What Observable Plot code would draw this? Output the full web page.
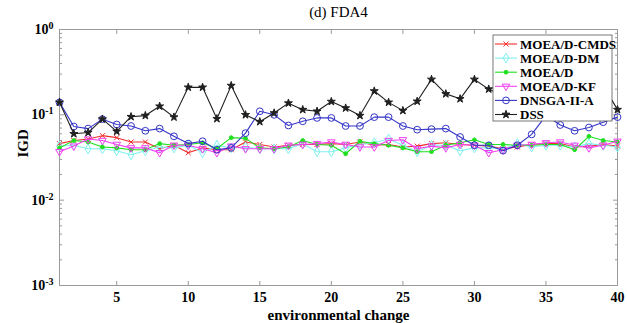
<!DOCTYPE html>
<html>
<head>
<meta charset="utf-8">
<script src="https://cdn.jsdelivr.net/npm/d3@7"></script>
<script src="https://cdn.jsdelivr.net/npm/@observablehq/plot@0.6"></script>
<style>
  html, body { margin: 0; padding: 0; background: white; }
  svg { display: block; }
</style>
</head>
<body>
<div id="chart"></div>
<script>
const envChange = d3.range(1, 41);
const seriesNames = ["MOEA/D-CMDS", "MOEA/D-DM", "MOEA/D", "MOEA/D-KF", "DNSGA-II-A", "DSS"];
const seriesColors = ["#f03030", "#80f0f0", "#20e020", "#f040f0", "#3535c8", "#202020"];
const seriesSymbols = ["times", "diamond", "circle", "triangle", "circle", "star"];
const seriesFilled = [false, false, true, false, false, true];
const seriesRotate = [0, 0, 0, 180, 0, 0];
const seriesR = [2.4, 3.0, 1.9, 2.8, 3.4, 2.5];

const cmds = [0.046,0.050,0.052,0.057,0.054,0.048,0.048,0.040,0.044,0.036,0.041,0.039,0.039,0.048,0.045,0.042,0.044,0.045,0.045,0.046,0.045,0.048,0.044,0.045,0.042,0.043,0.046,0.047,0.045,0.044,0.043,0.040,0.042,0.045,0.046,0.046,0.042,0.043,0.045,0.043];
const dm = [0.043,0.044,0.040,0.040,0.038,0.034,0.038,0.042,0.041,0.044,0.036,0.044,0.041,0.042,0.040,0.040,0.040,0.046,0.037,0.037,0.041,0.045,0.047,0.052,0.044,0.037,0.044,0.044,0.038,0.041,0.041,0.040,0.046,0.042,0.044,0.044,0.042,0.046,0.044,0.042];
const moead = [0.041,0.050,0.048,0.042,0.041,0.039,0.039,0.046,0.044,0.045,0.047,0.040,0.054,0.053,0.041,0.040,0.042,0.050,0.045,0.044,0.035,0.049,0.046,0.044,0.041,0.037,0.037,0.044,0.047,0.051,0.045,0.045,0.044,0.044,0.045,0.045,0.039,0.056,0.050,0.048];
const kf = [0.037,0.043,0.052,0.050,0.045,0.041,0.041,0.036,0.044,0.044,0.040,0.036,0.043,0.040,0.040,0.040,0.044,0.045,0.046,0.048,0.045,0.042,0.042,0.050,0.051,0.040,0.043,0.041,0.045,0.044,0.036,0.039,0.044,0.045,0.047,0.048,0.044,0.041,0.044,0.049];
const dnsga = [0.14,0.073,0.069,0.089,0.077,0.074,0.065,0.069,0.056,0.046,0.049,0.039,0.041,0.061,0.11,0.10,0.075,0.084,0.092,0.092,0.074,0.074,0.094,0.094,0.074,0.067,0.068,0.069,0.055,0.044,0.044,0.038,0.044,0.059,0.098,0.076,0.065,0.071,0.082,0.094];
const dss = [0.14,0.060,0.062,0.089,0.064,0.095,0.098,0.126,0.094,0.21,0.21,0.090,0.22,0.10,0.083,0.105,0.137,0.115,0.110,0.143,0.12,0.098,0.19,0.14,0.112,0.144,0.26,0.176,0.154,0.26,0.20,0.17,0.15,0.19,0.16,0.18,0.20,0.17,0.22,0.115];

const xTicks = [5, 10, 15, 20, 25, 30, 35, 40];
const yMajor = [1e-3, 1e-2, 1e-1, 1];
const titleText = "(d) FDA4";
const xLabel = "environmental change";
const yLabel = "IGD";

const allValues = [cmds, dm, moead, kf, dnsga, dss];
const table = [];
seriesNames.forEach((name, s) => {
  allValues[s].forEach((v, i) => table.push({series: name, x: envChange[i], y: v}));
});
const yMinor = [];
for (const d of [1e-3, 1e-2, 1e-1]) for (let k = 2; k <= 9; k++) yMinor.push(d * k);

const font = "Liberation Serif, Times New Roman, serif";
const axisStroke = "#9a9a9a";

const marks = [
  Plot.frame({stroke: axisStroke}),
  Plot.axisX({anchor: "bottom", ticks: xTicks, tickSize: -4, tickPadding: 11, stroke: axisStroke, fill: "black", fontSize: 14, fontWeight: "bold", label: null}),
  Plot.axisX({anchor: "top", ticks: xTicks, tickSize: -4, stroke: axisStroke, tickFormat: () => "", label: null}),
  Plot.axisY({anchor: "left", ticks: yMajor, tickSize: -5, tickPadding: 11, stroke: axisStroke, fill: "black", fontSize: 14, fontWeight: "bold", tickFormat: d => "10^" + Math.round(Math.log10(d)), label: null}),
  Plot.axisY({anchor: "left", ticks: yMinor, tickSize: -3, stroke: axisStroke, tickFormat: () => "", label: null}),
  Plot.axisY({anchor: "right", ticks: yMajor, tickSize: -5, stroke: axisStroke, tickFormat: () => "", label: null}),
  Plot.axisY({anchor: "right", ticks: yMinor, tickSize: -3, stroke: axisStroke, tickFormat: () => "", label: null})
];
seriesNames.forEach((name, s) => {
  const data = table.filter(d => d.series === name);
  marks.push(Plot.line(data, {x: "x", y: "y", stroke: seriesColors[s], strokeWidth: 1.1}));
  marks.push(Plot.dot(data, {
    x: "x", y: "y", symbol: () => seriesSymbols[s], r: seriesR[s],
    stroke: seriesColors[s], strokeWidth: 1,
    fill: seriesFilled[s] ? seriesColors[s] : "none",
    rotate: seriesRotate[s]
  }));
});
marks.push(Plot.text([titleText], {frameAnchor: "top", lineAnchor: "middle", dy: -17, fontSize: 15, fontWeight: "normal", fill: "black"}));
marks.push(Plot.text([xLabel], {frameAnchor: "bottom", lineAnchor: "middle", dy: 30, fontSize: 15, fontWeight: "bold", fill: "black"}));
marks.push(Plot.text([yLabel], {frameAnchor: "left", dx: -36, rotate: -90, fontSize: 15, fontWeight: "bold", fill: "black"}));

const svg = Plot.plot({
  width: 627,
  height: 323,
  marginTop: 29,
  marginBottom: 38,
  marginLeft: 59,
  marginRight: 10,
  x: {domain: [1, 40]},
  y: {type: "log", domain: [1e-3, 1]},
  symbol: {type: "identity"},
  style: {fontFamily: font, background: "white", color: "black", overflow: "visible"},
  marks
});

// superscript exponents on y tick labels
d3.select(svg).selectAll("text").each(function() {
  const t = this.textContent;
  if (/^10\^-?\d+$/.test(t)) {
    const exp = t.split("^")[1];
    const el = d3.select(this);
    el.text("");
    el.append("tspan").text("10");
    el.append("tspan").attr("dy", "-0.5em").attr("font-size", "10px").text(exp);
  }
});

// legend
const lg = d3.select(svg).append("g")
  .attr("font-family", font).attr("font-weight", "bold").attr("font-size", 13)
  .attr("text-anchor", "start");
const lx = 493, ly = 35, lw = 119, lh = 86;
lg.append("rect").attr("x", lx).attr("y", ly).attr("width", lw).attr("height", lh)
  .attr("fill", "white").attr("stroke", "#555").attr("stroke-width", 0.8);
const symMap = {times: d3.symbolTimes, diamond: d3.symbolDiamond, circle: d3.symbolCircle, triangle: d3.symbolTriangle, star: d3.symbolStar};
seriesNames.forEach((name, s) => {
  const yy = ly + 9 + s * 14.1;
  lg.append("line").attr("x1", lx + 2).attr("x2", lx + 24).attr("y1", yy).attr("y2", yy)
    .attr("stroke", seriesColors[s]).attr("stroke-width", 1.1);
  const r = seriesR[s];
  lg.append("path")
    .attr("d", d3.symbol(symMap[seriesSymbols[s]], Math.PI * r * r)())
    .attr("transform", `translate(${lx + 13},${yy}) rotate(${seriesRotate[s]})`)
    .attr("stroke", seriesColors[s]).attr("stroke-width", 1)
    .attr("fill", seriesFilled[s] ? seriesColors[s] : "none");
  lg.append("text").attr("x", lx + 27).attr("y", yy).attr("dy", "0.35em")
    .attr("text-anchor", "start").attr("fill", "black").text(name);
});

document.getElementById("chart").appendChild(svg);
</script>
</body>
</html>
